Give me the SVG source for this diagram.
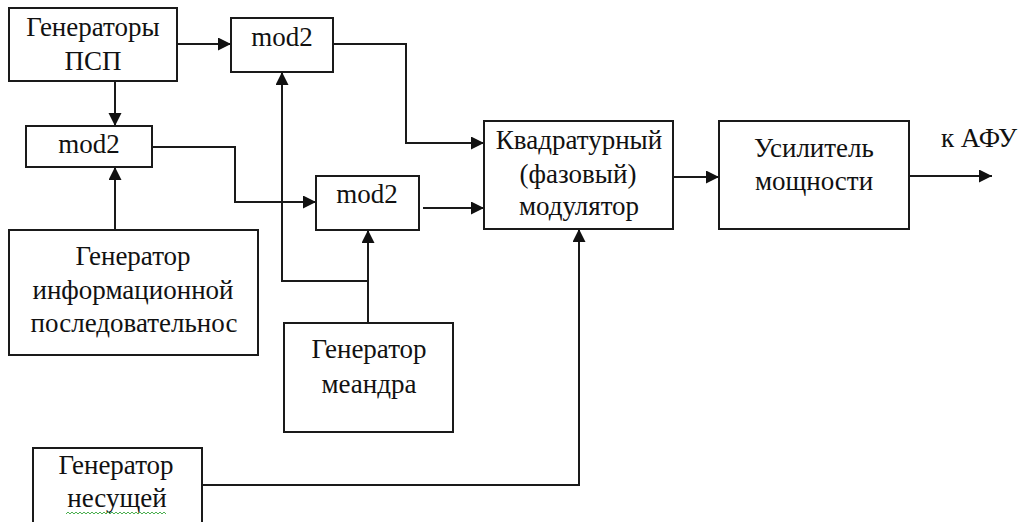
<svg xmlns="http://www.w3.org/2000/svg" width="1028" height="522" viewBox="0 0 1028 522">
<style>
.box{fill:#fff;stroke:#1a1a1a;stroke-width:2}
.c{fill:none;stroke:#1a1a1a;stroke-width:2}
</style>
<defs>
<marker id="ah" markerUnits="userSpaceOnUse" markerWidth="14" markerHeight="14" refX="13" refY="6.5" orient="auto">
<path d="M0,0 L13,6.5 L0,13 z" fill="#111"/>
</marker>
</defs>
<rect width="1028" height="522" fill="#fff"/>
<g id="connectors">
<path class="c" d="M177,44 H231" marker-end="url(#ah)"/>
<path class="c" d="M115,81 V126" marker-end="url(#ah)"/>
<path class="c" d="M115,230 V167" marker-end="url(#ah)"/>
<path class="c" d="M152,147 H235 V202 H316" marker-end="url(#ah)"/>
<path class="c" d="M333,44 H406 V143 H484" marker-end="url(#ah)"/>
<path class="c" d="M423,208 H484" marker-end="url(#ah)"/>
<path class="c" d="M368,323 V230" marker-end="url(#ah)"/>
<path class="c" d="M368,281 H282 V72" marker-end="url(#ah)"/>
<path class="c" d="M202,485 H579 V229" marker-end="url(#ah)"/>
<path class="c" d="M673,177 H719" marker-end="url(#ah)"/>
<path class="c" d="M909,176 H992" marker-end="url(#ah)"/>
</g>
<g id="gen-psp">
<rect class="box" x="9" y="8" width="168" height="73"/>
<text style="font-family:'Liberation Serif',serif !important" font-size="27" fill="#111" text-anchor="middle" x="93" y="36">Генераторы</text>
<text style="font-family:'Liberation Serif',serif !important" font-size="27" fill="#111" text-anchor="middle" x="93" y="70">ПСП</text>
</g>
<g id="mod2-top">
<rect class="box" x="231" y="18" width="102" height="54"/>
<text style="font-family:'Liberation Serif',serif !important" font-size="27" fill="#111" text-anchor="middle" x="282" y="46">mod2</text>
</g>
<g id="mod2-left">
<rect class="box" x="26" y="126" width="126" height="41"/>
<text style="font-family:'Liberation Serif',serif !important" font-size="27" fill="#111" text-anchor="middle" x="89" y="153">mod2</text>
</g>
<g id="mod2-mid">
<rect class="box" x="316" y="176" width="103" height="54"/>
<text style="font-family:'Liberation Serif',serif !important" font-size="27" fill="#111" text-anchor="middle" x="367" y="203">mod2</text>
</g>
<g id="gen-info">
<rect class="box" x="9" y="230" width="249" height="125"/>
<text style="font-family:'Liberation Serif',serif !important" font-size="27" fill="#111" text-anchor="middle" x="133" y="265">Генератор</text>
<text style="font-family:'Liberation Serif',serif !important" font-size="27" fill="#111" text-anchor="middle" x="133" y="299">информационной</text>
<text style="font-family:'Liberation Serif',serif !important" font-size="27" fill="#111" text-anchor="middle" x="134" y="332">последовательнос</text>
</g>
<g id="gen-meander">
<rect class="box" x="284" y="323" width="169" height="109"/>
<text style="font-family:'Liberation Serif',serif !important" font-size="27" fill="#111" text-anchor="middle" x="369" y="358">Генератор</text>
<text style="font-family:'Liberation Serif',serif !important" font-size="27" fill="#111" text-anchor="middle" x="369" y="393">меандра</text>
</g>
<g id="gen-carrier">
<rect class="box" x="33" y="448" width="169" height="80"/>
<text style="font-family:'Liberation Serif',serif !important" font-size="27" fill="#111" text-anchor="middle" x="116" y="474">Генератор</text>
<text style="font-family:'Liberation Serif',serif !important" font-size="27" fill="#111" text-anchor="middle" x="117" y="507">несущей</text>
<path d="M66,514 l2,-2 l2,2 l2,-2 l2,2 l2,-2 l2,2 l2,-2 l2,2 l2,-2 l2,2 l2,-2 l2,2 l2,-2 l2,2 l2,-2 l2,2 l2,-2 l2,2 l2,-2 l2,2 l2,-2 l2,2 l2,-2 l2,2 l2,-2 l2,2 l2,-2 l2,2 l2,-2 l2,2 l2,-2 l2,2 l2,-2 l2,2 l2,-2 l2,2 l2,-2 l2,2 l2,-2 l2,2 l2,-2 l2,2 l2,-2 l2,2 l2,-2 l2,2 l2,-2 l2,2 l2,-2 l2,2" fill="none" stroke="#4caf50" stroke-width="1"/>
</g>
<g id="quad-mod">
<rect class="box" x="484" y="121" width="189" height="108"/>
<text style="font-family:'Liberation Serif',serif !important" font-size="27" fill="#111" text-anchor="middle" x="579" y="149">Квадратурный</text>
<text style="font-family:'Liberation Serif',serif !important" font-size="27" fill="#111" text-anchor="middle" x="578" y="183">(фазовый)</text>
<text style="font-family:'Liberation Serif',serif !important" font-size="27" fill="#111" text-anchor="middle" x="579" y="215">модулятор</text>
</g>
<g id="amplifier">
<rect class="box" x="719" y="121" width="190" height="108"/>
<text style="font-family:'Liberation Serif',serif !important" font-size="27" fill="#111" text-anchor="middle" x="814" y="157">Усилитель</text>
<text style="font-family:'Liberation Serif',serif !important" font-size="27" fill="#111" text-anchor="middle" x="814" y="190">мощности</text>
</g>
<g id="out-label">
<text style="font-family:'Liberation Serif',serif !important" font-size="27" fill="#111" text-anchor="middle" x="979" y="147">к АФУ</text>
</g>
</svg>
